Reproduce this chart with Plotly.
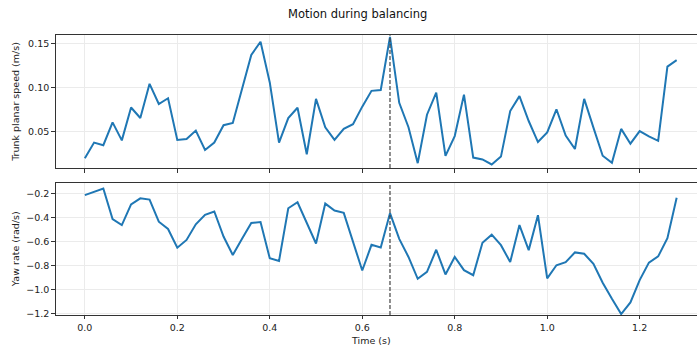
import plotly.graph_objects as go
from plotly.subplots import make_subplots

time = [round(i * 0.02, 2) for i in range(65)]

trunk_speed = [
    0.019, 0.037, 0.034, 0.060, 0.0395, 0.077, 0.065, 0.104, 0.081, 0.0876,
    0.040, 0.041, 0.0507, 0.0286, 0.037, 0.0568, 0.0594, 0.097, 0.137, 0.152,
    0.1056, 0.037, 0.065, 0.0767, 0.0237, 0.0868, 0.0545, 0.040, 0.0526, 0.058,
    0.078, 0.096, 0.097, 0.1575, 0.0823, 0.0545, 0.0135, 0.0688, 0.094, 0.0218,
    0.0444, 0.0917, 0.0199, 0.0177, 0.012, 0.021, 0.073, 0.090, 0.0616, 0.0376,
    0.0485, 0.075, 0.045, 0.0297, 0.0868, 0.054, 0.022, 0.0139, 0.0526, 0.0357,
    0.050, 0.044, 0.039, 0.1237, 0.131,
]

yaw_rate = [
    -0.211, -0.184, -0.156, -0.4115, -0.461, -0.288, -0.238, -0.249, -0.433, -0.494,
    -0.650, -0.585, -0.455, -0.376, -0.348, -0.557, -0.711, -0.576, -0.444, -0.436,
    -0.738, -0.760, -0.321, -0.271, -0.450, -0.615, -0.282, -0.340, -0.359, -0.598,
    -0.840, -0.626, -0.648, -0.362, -0.576, -0.727, -0.909, -0.851, -0.667, -0.873,
    -0.727, -0.837, -0.879, -0.609, -0.541, -0.629, -0.769, -0.461, -0.670, -0.379,
    -0.906, -0.796, -0.771, -0.689, -0.700, -0.785, -0.942, -1.076, -1.203, -1.106,
    -0.920, -0.774, -0.722, -0.571, -0.233,
]

event_time = 0.66
x_ticks = [0.0, 0.2, 0.4, 0.6, 0.8, 1.0, 1.2]
top_ticks = [0.05, 0.10, 0.15]
bottom_ticks = [-0.2, -0.4, -0.6, -0.8, -1.0, -1.2]

W, H = 697, 352
fig = make_subplots(rows=2, cols=1, shared_xaxes=False)
line_color = "#1f77b4"
fig.add_trace(go.Scatter(x=time, y=trunk_speed, mode="lines",
                         line=dict(color=line_color, width=2), showlegend=False), row=1, col=1)
fig.add_trace(go.Scatter(x=time, y=yaw_rate, mode="lines",
                         line=dict(color=line_color, width=2), showlegend=False), row=2, col=1)

left = 55.7 / W
xrange = [-0.063, 1.324]
axis_common = dict(showline=True, linecolor="#333333", linewidth=1.1, ticks="outside",
                   ticklen=3.5, tickwidth=0.8, tickcolor="#333333",
                   showgrid=True, gridcolor="#ebebeb", gridwidth=0.8, zeroline=False,
                   tickfont=dict(family="DejaVu Sans", size=9.5, color="#222222"))

fig.update_layout(
    width=W, height=H, margin=dict(l=0, r=0, t=0, b=0),
    paper_bgcolor="white", plot_bgcolor="white",
    font=dict(family="DejaVu Sans", size=9.5, color="#222222"),
    xaxis=dict(domain=[left, 1.0], range=xrange, tickvals=x_ticks, showticklabels=False,
               mirror=True, anchor="y", **axis_common),
    xaxis2=dict(domain=[left, 1.0], range=xrange, tickvals=x_ticks, tickformat=".1f",
                mirror=True, anchor="y2", **axis_common),
    yaxis=dict(domain=[(H - 170) / H, (H - 35.7) / H], range=[0.0079, 0.1594],
               tickvals=top_ticks, tickformat=".2f", anchor="x", **axis_common),
    yaxis2=dict(domain=[(H - 318.5) / H, (H - 184.7) / H], range=[-1.21, -0.107],
                tickvals=bottom_ticks, tickformat=".1f", anchor="x2", **axis_common),
)

for xref, yref in [("x", "y domain"), ("x2", "y2 domain")]:
    fig.add_shape(type="line", x0=event_time, x1=event_time, y0=0, y1=1,
                  xref=xref, yref=yref, line=dict(color="#444444", width=1.2, dash="4px,2px"))

def label(text, px, py, size=9.5, angle=0, color="#222222"):
    fig.add_annotation(text=text, x=px / W, y=(H - py) / H, xref="paper", yref="paper",
                       xanchor="center", yanchor="middle", showarrow=False, textangle=angle,
                       font=dict(family="DejaVu Sans", size=size, color=color))

label("Motion during balancing", 357.5, 14, size=11.5, color="#111111")
label("Trunk planar speed (m/s)", 16, 103, angle=-90)
label("Yaw rate (rad/s)", 15, 252, angle=-90)
label("Time (s)", 371, 344)

fig.write_html("out.html")
